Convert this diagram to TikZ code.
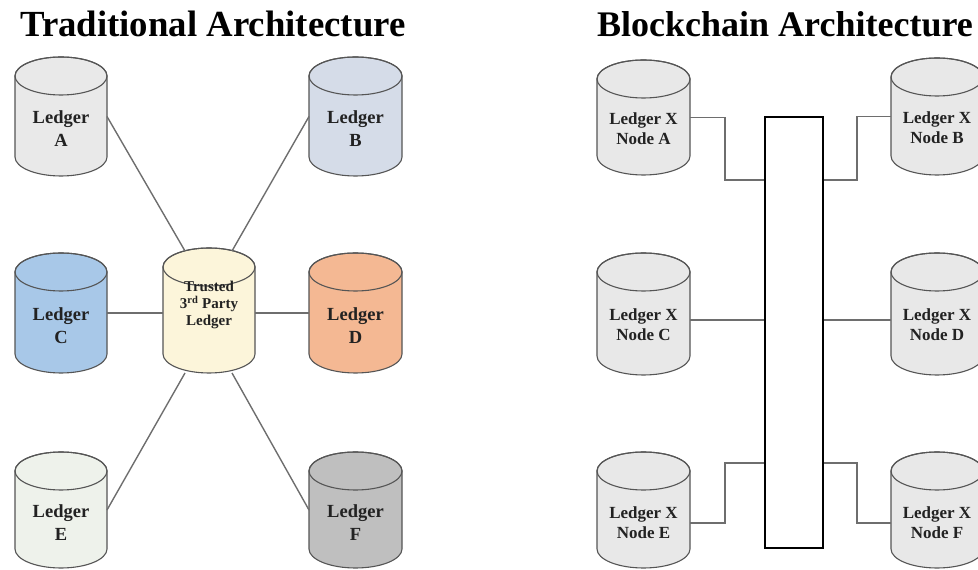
\documentclass[tikz,border=0pt]{standalone}
\usepackage{fontspec}
\setmainfont{Liberation Serif}
\usetikzlibrary{calc}
\definecolor{cA}{HTML}{E9E9E9}
\definecolor{cB}{HTML}{D5DCE8}
\definecolor{cC}{HTML}{A8C8E8}
\definecolor{cT}{HTML}{FCF5DA}
\definecolor{cD}{HTML}{F4B893}
\definecolor{cE}{HTML}{EEF2EB}
\definecolor{cF}{HTML}{BFBFBF}
\definecolor{cN}{HTML}{E8E8E8}
\definecolor{cylline}{HTML}{555555}
\definecolor{connline}{HTML}{6E6E6E}
\definecolor{txt}{HTML}{222222}
\tikzset{
  cylbody/.style={draw=cylline, line width=1.1pt},
  cylbox/.style={rectangle, inner sep=0pt, outer sep=0pt},
  lbl/.style={font=\bfseries\fontsize{18.5}{23}\selectfont, align=center, text=txt, inner sep=0pt},
  nlbl/.style={font=\bfseries\fontsize{17}{20}\selectfont, align=center, text=txt, inner sep=0pt},
  tlbl/.style={font=\bfseries\fontsize{15}{17}\selectfont, align=center, text=txt, inner sep=0pt},
  titlelbl/.style={font=\bfseries\fontsize{36.8}{40}\selectfont, text=black, inner sep=0pt, anchor=base west},
  conn/.style={draw=connline, line width=1.4pt},
  busbox/.style={draw=black, line width=2pt, rectangle, inner sep=0pt}
}
% #1 name, #2 cx, #3 top (image y), #4 bottom (image y), #5 rx, #6 fill
\newcommand\ledgercyl[6]{%
  \pgfmathsetmacro\cylT{570-#3}%
  \pgfmathsetmacro\cylB{570-#4}%
  \pgfmathsetmacro\cylL{#2-#5}%
  \pgfmathsetmacro\cylR{#2+#5}%
  \pgfmathsetmacro\cylW{2*#5}%
  \pgfmathsetmacro\cylH{#4-#3}%
  \pgfmathsetmacro\cylM{570-(#3+#4)/2}%
  \filldraw[cylbody, fill=#6] (\cylL,\cylT-19) -- (\cylL,\cylB+19)
    arc[start angle=180, end angle=360, x radius=#5pt, y radius=19pt]
    -- (\cylR,\cylT-19)
    arc[start angle=0, end angle=180, x radius=#5pt, y radius=19pt] -- cycle;
  \draw[cylbody] (#2,\cylT-19) ellipse[x radius=#5pt, y radius=19pt];
  \node[cylbox, minimum width=\cylW pt, minimum height=\cylH pt] (#1) at (#2,\cylM) {};
}
\begin{document}
\begin{tikzpicture}[x=1pt,y=1pt]
\useasboundingbox (0,0) rectangle (978,570);
\begin{scope}
\clip (0,0) rectangle (978,570);

% titles
\node[titlelbl] (t1) at (20,533) {Traditional Architecture};
\node[titlelbl, font=\bfseries\fontsize{36}{40}\selectfont] (t2) at (597,533) {Blockchain Architecture};

% ---------- traditional ----------
\ledgercyl{A}{61}{57}{176}{46}{cA}
\ledgercyl{B}{355.5}{57}{176}{46.5}{cB}
\ledgercyl{C}{61}{253}{373}{46}{cC}
\ledgercyl{T}{209}{248}{373}{46}{cT}
\ledgercyl{D}{355.5}{253}{373}{46.5}{cD}
\ledgercyl{E}{61}{452}{568}{46}{cE}
\ledgercyl{F}{355.5}{452}{568}{46.5}{cF}

\node[lbl] (A-l) at ($(A.center)+(0,-12)$) {Ledger\\A};
\node[lbl] (B-l) at ($(B.center)+(0,-12)$) {Ledger\\B};
\node[lbl] (C-l) at ($(C.center)+(0,-13)$) {Ledger\\C};
\node[lbl] (D-l) at ($(D.center)+(0,-13)$) {Ledger\\D};
\node[lbl] (E-l) at ($(E.center)+(0,-13)$) {Ledger\\E};
\node[lbl] (F-l) at ($(F.center)+(0,-13)$) {Ledger\\F};
\node[tlbl] (T-l) at (209,265) {Trusted\\3\textsuperscript{rd} Party\\Ledger};

\draw[conn] (A.east) -- ($(T.north)+(-24,-3)$);
\draw[conn] (B.west) -- ($(T.north)+(23,-3)$);
\draw[conn] (C.east) -- (C.east -| T.west);
\draw[conn] (T.east |- C.east) -- (D.west |- C.east);
\draw[conn] (E.east) -- ($(T.south)+(-24,0)$);
\draw[conn] (F.west) -- ($(T.south)+(23,0)$);

% ---------- blockchain ----------
\node[busbox, minimum width=58pt, minimum height=431pt] (bus) at (794,237.5) {};

\ledgercyl{nA}{643.5}{60}{175}{46.5}{cN}
\ledgercyl{nB}{937}{58}{175}{46}{cN}
\ledgercyl{nC}{643.5}{253}{375}{46.5}{cN}
\ledgercyl{nD}{937}{253}{375}{46}{cN}
\ledgercyl{nE}{643.5}{452}{568}{46.5}{cN}
\ledgercyl{nF}{937}{452}{568}{46}{cN}

\node[nlbl] (nA-l) at ($(nA.center)+(0,-11)$) {Ledger X\\Node A};
\node[nlbl] (nB-l) at ($(nB.center)+(0,-11)$) {Ledger X\\Node B};
\node[nlbl] (nC-l) at ($(nC.center)+(0,-11)$) {Ledger X\\Node C};
\node[nlbl] (nD-l) at ($(nD.center)+(0,-11)$) {Ledger X\\Node D};
\node[nlbl] (nE-l) at ($(nE.center)+(0,-13)$) {Ledger X\\Node E};
\node[nlbl] (nF-l) at ($(nF.center)+(0,-13)$) {Ledger X\\Node F};

\coordinate (ja) at (725,390);
\coordinate (jb) at (857,390);
\coordinate (je) at (725,107);
\coordinate (jf) at (857,107);

\draw[conn] (nA.east) -| (ja) -- (ja -| bus.west);
\draw[conn] (nB.west) -| (jb) -- (jb -| bus.east);
\draw[conn] ([yshift=-6pt]nC.east) coordinate (c1) -- (c1 -| bus.west);
\draw[conn] ([yshift=-6pt]nD.west) coordinate (d1) -- (d1 -| bus.east);
\draw[conn] ([yshift=-13pt]nE.east) -| (je) -- (je -| bus.west);
\draw[conn] ([yshift=-13pt]nF.west) -| (jf) -- (jf -| bus.east);
\end{scope}
\end{tikzpicture}
\end{document}
